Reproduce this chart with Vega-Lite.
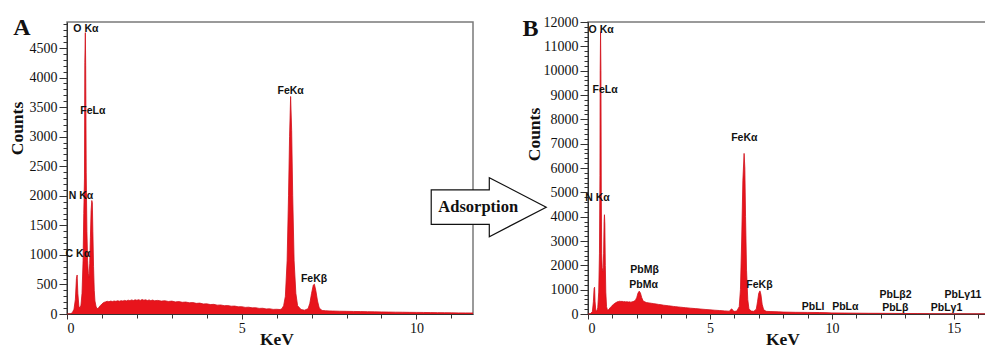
{
  "$schema": "https://vega.github.io/schema/vega-lite/v6.json",
  "padding": {"left": 7, "top": 14, "right": 0, "bottom": 0},
  "background": "white",
  "bounds": "flush",
  "spacing": 115,
  "config": {
    "view": {"stroke": "#7a7a7a", "strokeWidth": 1.5},
    "axis": {"domainColor": "#333", "tickColor": "#333", "labelFont": "Liberation Serif", "labelFontSize": 14, "labelColor": "#111", "titleFont": "Liberation Serif", "titleFontSize": 17.5, "titleFontWeight": "bold", "titleColor": "#111", "grid": false},
    "text": {"font": "Liberation Sans", "fontWeight": "bold", "fontSize": 10.5, "color": "#111"}
  },
  "datasets": {
    "specA": [
      {"kev":0,"counts":0},{"kev":0.1,"counts":5},{"kev":0.15,"counts":20},{"kev":0.2,"counts":80},{"kev":0.24,"counts":250},{"kev":0.27,"counts":600},{"kev":0.29,"counts":660},{"kev":0.31,"counts":350},{"kev":0.34,"counts":130},{"kev":0.37,"counts":100},{"kev":0.4,"counts":150},{"kev":0.43,"counts":350},{"kev":0.46,"counts":900},{"kev":0.48,"counts":1700},{"kev":0.5,"counts":2300},{"kev":0.51,"counts":4250},{"kev":0.525,"counts":4760},{"kev":0.535,"counts":4200},{"kev":0.55,"counts":2400},{"kev":0.57,"counts":1400},{"kev":0.59,"counts":900},{"kev":0.61,"counts":680},{"kev":0.63,"counts":620},{"kev":0.65,"counts":850},{"kev":0.67,"counts":1300},{"kev":0.69,"counts":1750},{"kev":0.71,"counts":1920},{"kev":0.725,"counts":1880},{"kev":0.74,"counts":1400},{"kev":0.76,"counts":800},{"kev":0.78,"counts":400},{"kev":0.8,"counts":220},{"kev":0.83,"counts":130},{"kev":0.86,"counts":90},{"kev":0.9,"counts":100},{"kev":0.95,"counts":140},{"kev":1.0,"counts":170},{"kev":1.05,"counts":195},{"kev":1.1,"counts":205},{"kev":1.15,"counts":215},{"kev":1.2,"counts":208},{"kev":1.25,"counts":218},{"kev":1.3,"counts":212},{"kev":1.35,"counts":220},{"kev":1.4,"counts":214},{"kev":1.45,"counts":224},{"kev":1.5,"counts":216},{"kev":1.55,"counts":226},{"kev":1.6,"counts":219},{"kev":1.65,"counts":230},{"kev":1.7,"counts":222},{"kev":1.75,"counts":234},{"kev":1.8,"counts":226},{"kev":1.85,"counts":238},{"kev":1.9,"counts":228},{"kev":1.95,"counts":240},{"kev":2.0,"counts":232},{"kev":2.05,"counts":242},{"kev":2.1,"counts":230},{"kev":2.15,"counts":244},{"kev":2.2,"counts":233},{"kev":2.25,"counts":240},{"kev":2.3,"counts":228},{"kev":2.35,"counts":238},{"kev":2.4,"counts":226},{"kev":2.45,"counts":236},{"kev":2.5,"counts":224},{"kev":2.6,"counts":230},{"kev":2.7,"counts":218},{"kev":2.8,"counts":224},{"kev":2.9,"counts":212},{"kev":3.0,"counts":218},{"kev":3.1,"counts":205},{"kev":3.2,"counts":210},{"kev":3.3,"counts":198},{"kev":3.4,"counts":202},{"kev":3.5,"counts":190},{"kev":3.6,"counts":194},{"kev":3.7,"counts":180},{"kev":3.8,"counts":184},{"kev":3.9,"counts":170},{"kev":4.0,"counts":172},{"kev":4.1,"counts":160},{"kev":4.2,"counts":163},{"kev":4.3,"counts":150},{"kev":4.4,"counts":152},{"kev":4.5,"counts":141},{"kev":4.6,"counts":143},{"kev":4.7,"counts":132},{"kev":4.8,"counts":134},{"kev":4.9,"counts":122},{"kev":5.0,"counts":124},{"kev":5.1,"counts":112},{"kev":5.2,"counts":115},{"kev":5.3,"counts":104},{"kev":5.4,"counts":106},{"kev":5.5,"counts":95},{"kev":5.6,"counts":97},{"kev":5.7,"counts":86},{"kev":5.8,"counts":88},{"kev":5.9,"counts":78},{"kev":6.0,"counts":80},{"kev":6.1,"counts":76},{"kev":6.15,"counts":90},{"kev":6.2,"counts":140},{"kev":6.25,"counts":300},{"kev":6.3,"counts":900},{"kev":6.34,"counts":2000},{"kev":6.37,"counts":3000},{"kev":6.4,"counts":3680},{"kev":6.43,"counts":3100},{"kev":6.46,"counts":2000},{"kev":6.5,"counts":900},{"kev":6.55,"counts":350},{"kev":6.6,"counts":140},{"kev":6.7,"counts":75},{"kev":6.8,"counts":65},{"kev":6.9,"counts":90},{"kev":6.95,"counts":180},{"kev":7.0,"counts":350},{"kev":7.05,"counts":490},{"kev":7.08,"counts":505},{"kev":7.12,"counts":400},{"kev":7.17,"counts":220},{"kev":7.22,"counts":100},{"kev":7.3,"counts":60},{"kev":7.4,"counts":55},{"kev":7.5,"counts":52},{"kev":7.6,"counts":50},{"kev":7.8,"counts":47},{"kev":8.0,"counts":45},{"kev":8.2,"counts":43},{"kev":8.4,"counts":41},{"kev":8.6,"counts":39},{"kev":8.8,"counts":37},{"kev":9.0,"counts":35},{"kev":9.2,"counts":33},{"kev":9.4,"counts":31},{"kev":9.6,"counts":30},{"kev":9.8,"counts":28},{"kev":10.0,"counts":27},{"kev":10.2,"counts":26},{"kev":10.4,"counts":24},{"kev":10.6,"counts":23},{"kev":10.8,"counts":22},{"kev":11.0,"counts":20},{"kev":11.2,"counts":19},{"kev":11.4,"counts":18},{"kev":11.62,"counts":17}
    ],
    "specB": [
      {"kev":0,"counts":0},{"kev":0.1,"counts":10},{"kev":0.18,"counts":100},{"kev":0.22,"counts":500},{"kev":0.25,"counts":1050},{"kev":0.27,"counts":1100},{"kev":0.29,"counts":500},{"kev":0.32,"counts":150},{"kev":0.36,"counts":120},{"kev":0.4,"counts":250},{"kev":0.44,"counts":900},{"kev":0.47,"counts":2500},{"kev":0.49,"counts":5700},{"kev":0.5,"counts":10000},{"kev":0.515,"counts":11600},{"kev":0.53,"counts":10000},{"kev":0.545,"counts":5000},{"kev":0.56,"counts":2500},{"kev":0.58,"counts":1900},{"kev":0.6,"counts":1800},{"kev":0.62,"counts":1750},{"kev":0.64,"counts":2500},{"kev":0.66,"counts":3800},{"kev":0.675,"counts":4080},{"kev":0.69,"counts":3700},{"kev":0.71,"counts":2000},{"kev":0.73,"counts":900},{"kev":0.76,"counts":300},{"kev":0.8,"counts":150},{"kev":0.85,"counts":180},{"kev":0.9,"counts":250},{"kev":0.95,"counts":300},{"kev":1.0,"counts":360},{"kev":1.05,"counts":400},{"kev":1.1,"counts":440},{"kev":1.15,"counts":470},{"kev":1.2,"counts":500},{"kev":1.25,"counts":510},{"kev":1.3,"counts":525},{"kev":1.35,"counts":515},{"kev":1.4,"counts":520},{"kev":1.45,"counts":505},{"kev":1.5,"counts":512},{"kev":1.55,"counts":498},{"kev":1.6,"counts":505},{"kev":1.65,"counts":490},{"kev":1.7,"counts":500},{"kev":1.75,"counts":488},{"kev":1.8,"counts":498},{"kev":1.85,"counts":510},{"kev":1.9,"counts":530},{"kev":1.95,"counts":580},{"kev":2.0,"counts":680},{"kev":2.05,"counts":860},{"kev":2.1,"counts":940},{"kev":2.15,"counts":860},{"kev":2.2,"counts":680},{"kev":2.25,"counts":560},{"kev":2.3,"counts":510},{"kev":2.4,"counts":470},{"kev":2.5,"counts":455},{"kev":2.6,"counts":440},{"kev":2.7,"counts":425},{"kev":2.8,"counts":410},{"kev":2.9,"counts":392},{"kev":3.0,"counts":380},{"kev":3.1,"counts":362},{"kev":3.2,"counts":350},{"kev":3.3,"counts":336},{"kev":3.4,"counts":325},{"kev":3.5,"counts":312},{"kev":3.6,"counts":302},{"kev":3.7,"counts":290},{"kev":3.8,"counts":280},{"kev":3.9,"counts":268},{"kev":4.0,"counts":260},{"kev":4.2,"counts":240},{"kev":4.4,"counts":222},{"kev":4.6,"counts":205},{"kev":4.8,"counts":188},{"kev":5.0,"counts":172},{"kev":5.2,"counts":156},{"kev":5.4,"counts":142},{"kev":5.6,"counts":128},{"kev":5.8,"counts":114},{"kev":5.85,"counts":180},{"kev":5.9,"counts":210},{"kev":5.95,"counts":130},{"kev":6.0,"counts":110},{"kev":6.1,"counts":120},{"kev":6.2,"counts":300},{"kev":6.25,"counts":1000},{"kev":6.3,"counts":3000},{"kev":6.35,"counts":5500},{"kev":6.4,"counts":6600},{"kev":6.43,"counts":6000},{"kev":6.46,"counts":4000},{"kev":6.5,"counts":1800},{"kev":6.55,"counts":600},{"kev":6.6,"counts":200},{"kev":6.7,"counts":120},{"kev":6.8,"counts":110},{"kev":6.9,"counts":200},{"kev":6.95,"counts":500},{"kev":7.0,"counts":850},{"kev":7.05,"counts":950},{"kev":7.09,"counts":800},{"kev":7.14,"counts":400},{"kev":7.2,"counts":180},{"kev":7.3,"counts":110},{"kev":7.5,"counts":100},{"kev":7.8,"counts":90},{"kev":8.0,"counts":80},{"kev":8.5,"counts":70},{"kev":9.0,"counts":65},{"kev":9.5,"counts":60},{"kev":9.8,"counts":55},{"kev":10.0,"counts":45},{"kev":10.5,"counts":40},{"kev":11.0,"counts":35},{"kev":11.5,"counts":30},{"kev":12.0,"counts":28},{"kev":12.5,"counts":25},{"kev":13.0,"counts":20},{"kev":13.5,"counts":18},{"kev":14.0,"counts":15},{"kev":14.5,"counts":12},{"kev":15.0,"counts":10},{"kev":15.5,"counts":8},{"kev":16.0,"counts":6},{"kev":16.4,"counts":5}
    ],
    "labA": [
      {"kev":0.54,"counts":4822,"label":"O Kα"},
      {"kev":0.74,"counts":3435,"label":"FeLα"},
      {"kev":0.4,"counts":1997,"label":"N Kα"},
      {"kev":0.31,"counts":1015,"label":"C Kα"},
      {"kev":6.4,"counts":3773,"label":"FeKα"},
      {"kev":7.07,"counts":592,"label":"FeKβ"}
    ],
    "labB": [
      {"kev":0.54,"counts":11685,"label":"O Kα"},
      {"kev":0.7,"counts":9219,"label":"FeLα"},
      {"kev":0.39,"counts":4780,"label":"N Kα"},
      {"kev":2.32,"counts":1821,"label":"PbMβ"},
      {"kev":2.28,"counts":1204,"label":"PbMα"},
      {"kev":6.41,"counts":7217,"label":"FeKα"},
      {"kev":7.03,"counts":1204,"label":"FeKβ"},
      {"kev":9.23,"counts":300,"label":"PbLl"},
      {"kev":10.55,"counts":300,"label":"PbLα"},
      {"kev":12.61,"counts":781,"label":"PbLβ2"},
      {"kev":12.6,"counts":230,"label":"PbLβ"},
      {"kev":15.37,"counts":781,"label":"PbLγ11"},
      {"kev":14.7,"counts":230,"label":"PbLγ1"}
    ],
    "arrow": [{"kev":12.07,"counts":1807}],
    "arrowText": [{"kev":11.77,"counts":1815,"label":"Adsorption"}],
    "letterA": [{"kev":-1.29,"counts":4726,"label":"A"}],
    "letterB": [{"kev":-2.36,"counts":11408,"label":"B"}]
  },
  "hconcat": [
    {
      "width": 406,
      "height": 292,
      "resolve": {"axis": {"x": "independent", "y": "independent"}},
      "layer": [
        {
          "data": {"name": "specA"},
          "mark": {"type": "area", "color": "#e8141c", "opacity": 1, "fillOpacity": 1, "line": {"color": "#d0101a", "strokeWidth": 0.8}},
          "encoding": {
            "x": {"field": "kev", "type": "quantitative", "scale": {"domain": [0, 11.62], "nice": false}, "axis": {"values": [0, 5, 10], "format": "d", "tickSize": 5, "labelPadding": 2, "title": "KeV", "titlePadding": -5, "titleX": 209.5}},
            "y": {"field": "counts", "type": "quantitative", "scale": {"domain": [0, 4940], "nice": false}, "axis": {"values": [0, 500, 1000, 1500, 2000, 2500, 3000, 3500, 4000, 4500], "format": "d", "tickSize": 8, "labelPadding": 2, "title": "Counts", "titlePadding": 2.5, "titleY": 106}}
          }
        },
        {
          "data": {"name": "labA"},
          "mark": {"type": "text", "baseline": "middle", "align": "center"},
          "encoding": {
            "x": {"field": "kev", "type": "quantitative", "scale": {"domain": [0, 11.62], "nice": false}, "axis": {"orient": "bottom", "values": [0,1,2,3,4,5,6,7,8,9,10,11], "labels": false, "domain": false, "tickSize": 4, "title": null}},
            "y": {"field": "counts", "type": "quantitative", "scale": {"domain": [0, 4940], "nice": false}, "axis": {"orient": "left", "values": [0,100,200,300,400,500,600,700,800,900,1000,1100,1200,1300,1400,1500,1600,1700,1800,1900,2000,2100,2200,2300,2400,2500,2600,2700,2800,2900,3000,3100,3200,3300,3400,3500,3600,3700,3800,3900,4000,4100,4200,4300,4400,4500,4600,4700,4800,4900], "labels": false, "domain": false, "tickSize": 4, "title": null}},
            "text": {"field": "label"}
          }
        },
        {
          "data": {"name": "arrow"},
          "mark": {"type": "point", "shape": "M -1 -0.3 L 0.01 -0.3 L 0.01 -0.513 L 1 0 L 0.01 0.513 L 0.01 0.3 L -1 0.3 Z", "size": 13225, "filled": true, "fill": "white", "stroke": "#111", "strokeWidth": 1.2, "opacity": 1, "fillOpacity": 1},
          "encoding": {
            "x": {"field": "kev", "type": "quantitative", "axis": null},
            "y": {"field": "counts", "type": "quantitative", "axis": null}
          }
        },
        {
          "data": {"name": "arrowText"},
          "mark": {"type": "text", "font": "Liberation Serif", "fontWeight": "bold", "fontSize": 16.5, "baseline": "middle", "align": "center"},
          "encoding": {
            "x": {"field": "kev", "type": "quantitative", "axis": null},
            "y": {"field": "counts", "type": "quantitative", "axis": null},
            "text": {"field": "label"}
          }
        },
        {
          "data": {"name": "letterA"},
          "mark": {"type": "text", "font": "Liberation Serif", "fontWeight": "bold", "fontSize": 24, "baseline": "alphabetic", "align": "center"},
          "encoding": {
            "x": {"field": "kev", "type": "quantitative", "axis": null},
            "y": {"field": "counts", "type": "quantitative", "axis": null},
            "text": {"field": "label"}
          }
        }
      ]
    },
    {
      "width": 400,
      "height": 292,
      "resolve": {"axis": {"x": "independent", "y": "independent"}},
      "layer": [
        {
          "data": {"name": "specB"},
          "mark": {"type": "area", "color": "#e8141c", "opacity": 1, "fillOpacity": 1, "line": {"color": "#d0101a", "strokeWidth": 0.8}},
          "encoding": {
            "x": {"field": "kev", "type": "quantitative", "scale": {"domain": [0, 16.4], "nice": false}, "axis": {"values": [0, 5, 10, 15], "format": "d", "tickSize": 5, "labelPadding": 2, "title": "KeV", "titlePadding": -5, "titleX": 194.5}},
            "y": {"field": "counts", "type": "quantitative", "scale": {"domain": [0, 12000], "nice": false}, "axis": {"values": [0,1000,2000,3000,4000,5000,6000,7000,8000,9000,10000,11000,12000], "format": "d", "tickSize": 8, "labelPadding": 2, "title": "Counts", "titlePadding": 0, "titleY": 112}}
          }
        },
        {
          "data": {"name": "labB"},
          "mark": {"type": "text", "baseline": "middle", "align": "center"},
          "encoding": {
            "x": {"field": "kev", "type": "quantitative", "scale": {"domain": [0, 16.4], "nice": false}, "axis": {"orient": "bottom", "values": [0,1,2,3,4,5,6,7,8,9,10,11,12,13,14,15,16], "labels": false, "domain": false, "tickSize": 4, "title": null}},
            "y": {"field": "counts", "type": "quantitative", "scale": {"domain": [0, 12000], "nice": false}, "axis": {"orient": "left", "values": [0,200,400,600,800,1000,1200,1400,1600,1800,2000,2200,2400,2600,2800,3000,3200,3400,3600,3800,4000,4200,4400,4600,4800,5000,5200,5400,5600,5800,6000,6200,6400,6600,6800,7000,7200,7400,7600,7800,8000,8200,8400,8600,8800,9000,9200,9400,9600,9800,10000,10200,10400,10600,10800,11000,11200,11400,11600,11800,12000], "labels": false, "domain": false, "tickSize": 4, "title": null}},
            "text": {"field": "label"}
          }
        },
        {
          "data": {"name": "letterB"},
          "mark": {"type": "text", "font": "Liberation Serif", "fontWeight": "bold", "fontSize": 24, "baseline": "alphabetic", "align": "center"},
          "encoding": {
            "x": {"field": "kev", "type": "quantitative", "axis": null},
            "y": {"field": "counts", "type": "quantitative", "axis": null},
            "text": {"field": "label"}
          }
        }
      ]
    }
  ]
}
